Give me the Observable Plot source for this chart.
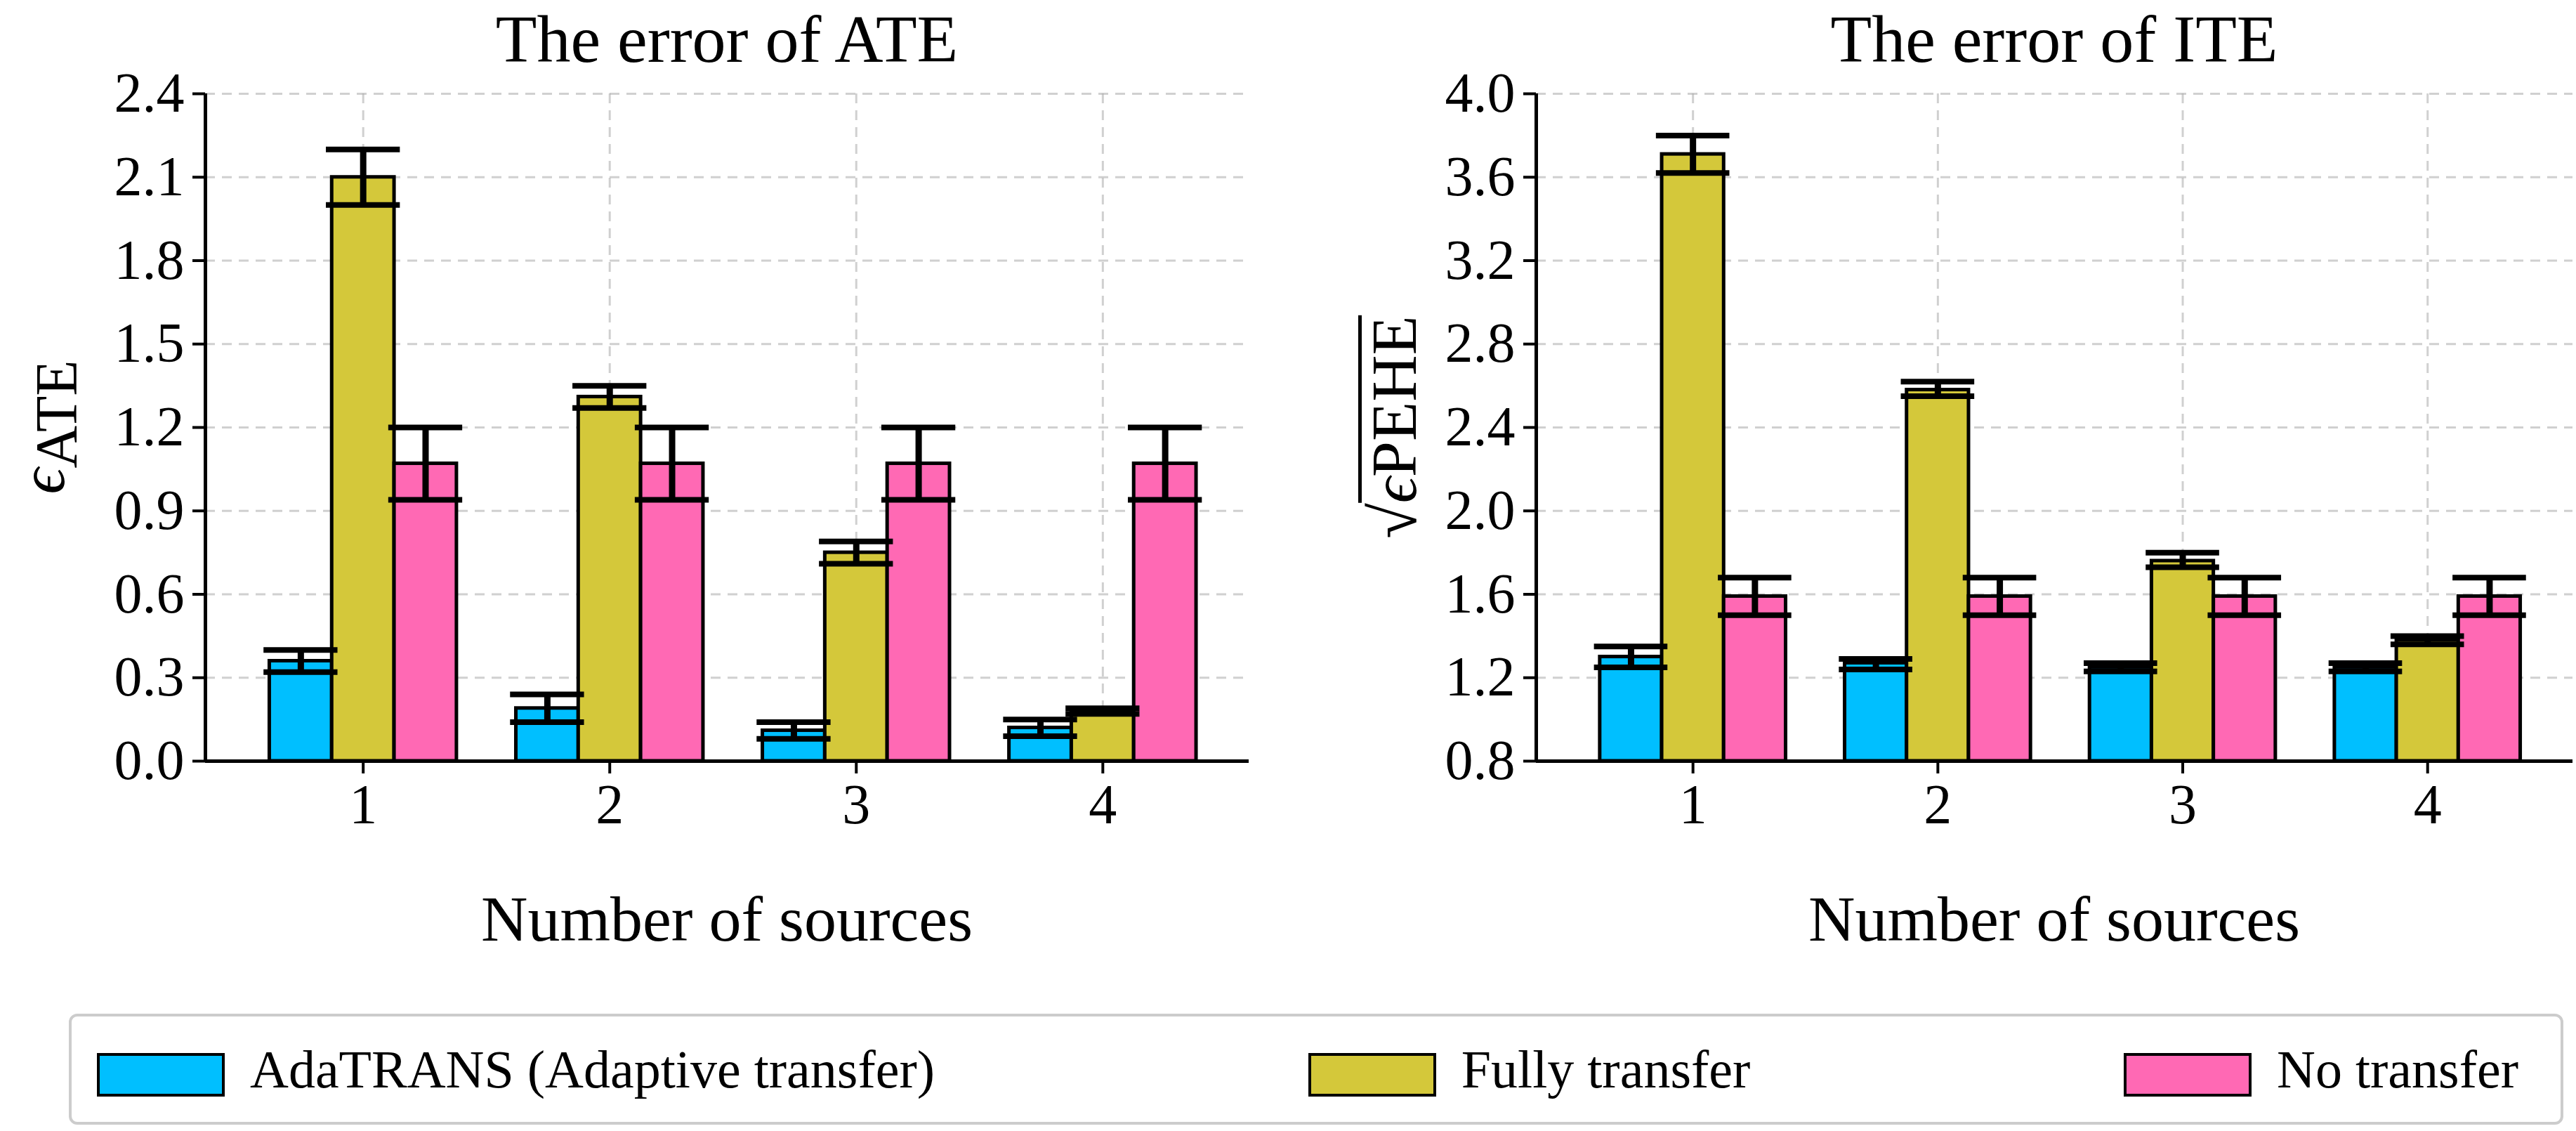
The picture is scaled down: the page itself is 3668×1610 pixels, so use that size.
<!DOCTYPE html>
<html><head><meta charset="utf-8">
<script src="https://cdn.jsdelivr.net/npm/d3@7"></script>
<script src="https://cdn.jsdelivr.net/npm/@observablehq/plot@0.6"></script>
<style>
body{margin:0;background:#fff;font-family:"Liberation Serif","DejaVu Serif",serif;}
#wrap{position:relative;width:3668px;height:1610px;}
.abs{position:absolute;white-space:nowrap;color:#000;}
.title{font-size:96px;transform:translateX(-50%);}
.xl{font-size:92px;transform:translateX(-50%);}
.yl{font-size:92px;transform:translate(-50%,-50%) rotate(-90deg);}
#legend{position:absolute;left:98px;top:1443px;width:3552px;height:158px;border:4px solid #ccc;border-radius:12px;box-sizing:border-box;display:flex;align-items:center;font-size:76px;padding:0 60px 0 36px;justify-content:space-between;}
.sw{display:inline-block;width:182px;height:62px;border:4px solid #000;box-sizing:border-box;margin-right:36px;vertical-align:middle;}
</style></head><body><div id="wrap"></div>
<script>
const groups = [1, 2, 3, 4];
const series = ["AdaTRANS (Adaptive transfer)", "Fully transfer", "No transfer"];
const colors = ["#00bfff", "#d4c83a", "#ff69b4"];
const ateAda   = [0.36, 0.19, 0.11, 0.12];
const ateAdaLo = [0.32, 0.14, 0.08, 0.09];
const ateAdaHi = [0.40, 0.24, 0.14, 0.15];
const ateFul   = [2.10, 1.31, 0.75, 0.18];
const ateFulLo = [2.00, 1.27, 0.71, 0.17];
const ateFulHi = [2.20, 1.35, 0.79, 0.19];
const ateNo    = [1.07, 1.07, 1.07, 1.07];
const ateNoLo  = [0.94, 0.94, 0.94, 0.94];
const ateNoHi  = [1.20, 1.20, 1.20, 1.20];
const iteAda   = [1.30, 1.27, 1.25, 1.25];
const iteAdaLo = [1.25, 1.24, 1.23, 1.23];
const iteAdaHi = [1.35, 1.29, 1.27, 1.27];
const iteFul   = [3.71, 2.58, 1.76, 1.38];
const iteFulLo = [3.62, 2.55, 1.73, 1.36];
const iteFulHi = [3.80, 2.62, 1.80, 1.40];
const iteNo    = [1.59, 1.59, 1.59, 1.59];
const iteNoLo  = [1.50, 1.50, 1.50, 1.50];
const iteNoHi  = [1.68, 1.68, 1.68, 1.68];
const ateTicks = [0,0.3,0.6,0.9,1.2,1.5,1.8,2.1,2.4];
const iteTicks = [0.8,1.2,1.6,2.0,2.4,2.8,3.2,3.6,4.0];

const BW = 0.253;
function rows(vals, los, his){
  const out=[];
  vals.forEach((arr,k)=>groups.forEach((g,i)=>out.push({g,k,s:series[k],v:arr[i],lo:los[k][i],hi:his[k][i],
    x1:g+(k-1.5)*BW, x2:g+(k-0.5)*BW, xc:g+(k-1)*BW})));
  return out;
}
function chart(data, ticks, ymin, ymax, opts){
  const capW = 0.15;
  return Plot.plot({
    width: opts.width, height: 1213,
    marginLeft: opts.ml, marginRight: opts.mr, marginTop: 133, marginBottom: 130,
    style:{fontFamily:'"Liberation Serif","DejaVu Serif",serif', fontSize:"80px", background:"#fff"},
    x:{domain:[0.36,4.593], label:null},
    y:{domain:[ymin,ymax], label:null},
    color:{domain:series, range:colors},
    marks:[
      Plot.gridY(ticks,{stroke:"#b0b0b0",strokeOpacity:0.6,strokeWidth:3,strokeDasharray:"14,10"}),
      Plot.gridX(groups,{stroke:"#b0b0b0",strokeOpacity:0.6,strokeWidth:3,strokeDasharray:"14,10"}),
      Plot.rect(data,{x1:"x1",x2:"x2",y1:()=>ymin,y2:"v",fill:"s",stroke:"#000",strokeWidth:5}),
      Plot.ruleX(data,{x:"xc",y1:"lo",y2:"hi",stroke:"#000",strokeWidth:9}),
      Plot.ruleY(data,{y:"lo",x1:d=>d.xc-capW,x2:d=>d.xc+capW,stroke:"#000",strokeWidth:8}),
      Plot.ruleY(data,{y:"hi",x1:d=>d.xc-capW,x2:d=>d.xc+capW,stroke:"#000",strokeWidth:8}),
      Plot.ruleY([ymin],{stroke:"#000",strokeWidth:5}),
      Plot.ruleX([0.36],{stroke:"#000",strokeWidth:5}),
      Plot.axisX({ticks:groups,tickSize:18,tickPadding:14,strokeWidth:4,label:null,tickFormat:d=>String(d)}),
      Plot.axisY({ticks,tickSize:18,tickPadding:12,strokeWidth:4,label:null,tickFormat:d=>d.toFixed(1)})
    ]
  });
}
const wrap = document.getElementById("wrap");
const c1 = chart(rows([ateAda,ateFul,ateNo],[ateAdaLo,ateFulLo,ateNoLo],[ateAdaHi,ateFulHi,ateNoHi]), ateTicks, 0, 2.4, {width:1800, ml:292, mr:22});
c1.style.position="absolute"; c1.style.left="0px"; c1.style.top="0px";
wrap.appendChild(c1);
const c2 = chart(rows([iteAda,iteFul,iteNo],[iteAdaLo,iteFulLo,iteNoLo],[iteAdaHi,iteFulHi,iteNoHi]), iteTicks, 0.8, 4.0, {width:1768, ml:287, mr:5});
c2.style.position="absolute"; c2.style.left="1900px"; c2.style.top="0px";
wrap.appendChild(c2);

function add(html, cls, left, top){
  const d=document.createElement("div"); d.className="abs "+cls; d.innerHTML=html;
  d.style.left=left+"px"; d.style.top=top+"px"; wrap.appendChild(d); return d;
}
add("The error of ATE","title",1035,0);
add("The error of ITE","title",2925,0);
add("Number of sources","xl",1035,1255);
add("Number of sources","xl",2925,1255);
add("<span style='font-style:italic'>ϵ</span><span style='font-size:84px;position:relative;top:18px'>ATE</span>","yl",60,608);
add("√<span style='display:inline-block;border-top:5px solid #000;line-height:1'><span style='font-style:italic'>ϵ</span><span>PEHE</span></span>","yl",1985,608);

const lg=document.createElement("div");
lg.id="legend";
lg.innerHTML = series.map((s,i)=>`<span><span class="sw" style="background:${colors[i]}"></span><span>${s}</span></span>`).join("");
wrap.appendChild(lg);
</script></body></html>
